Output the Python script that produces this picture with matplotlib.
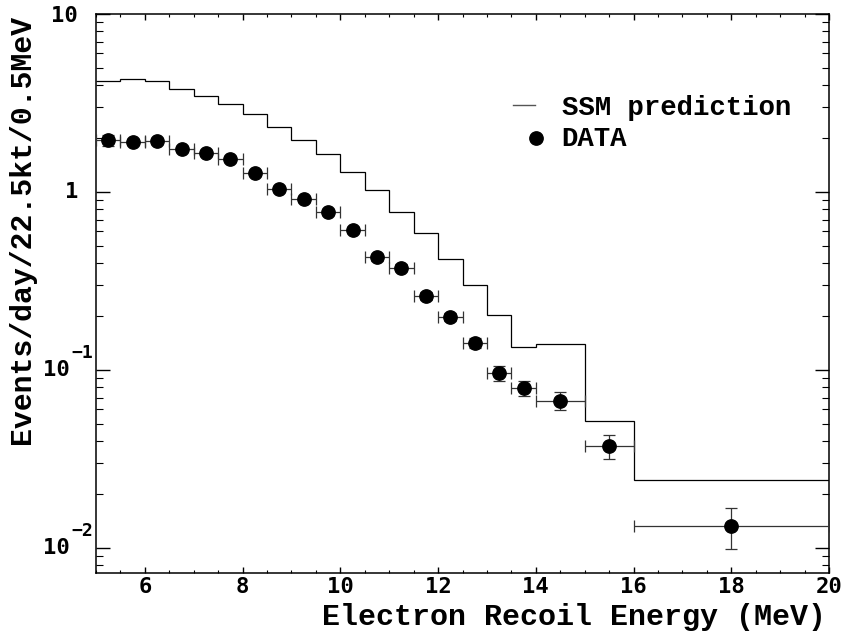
import numpy as np
import matplotlib
matplotlib.use("Agg")
import matplotlib.pyplot as plt
from matplotlib.ticker import FixedLocator, NullFormatter, LogLocator
from matplotlib.transforms import blended_transform_factory, ScaledTranslation

# SSM prediction histogram (bin edges in MeV, contents in events/day/22.5kt/0.5MeV)
ssm_edges = [5.0, 5.5, 6.0, 6.5, 7.0, 7.5, 8.0, 8.5, 9.0, 9.5, 10.0, 10.5,
             11.0, 11.5, 12.0, 12.5, 13.0, 13.5, 14.0, 15.0, 16.0, 20.0]
ssm_values = [4.20, 4.31, 4.20, 3.80, 3.48, 3.11, 2.73, 2.33, 1.96, 1.63, 1.30,
              1.02, 0.775, 0.586, 0.42, 0.30, 0.204, 0.135, 0.14, 0.052, 0.024]

# Measured spectrum
data_energy = [5.25, 5.75, 6.25, 6.75, 7.25, 7.75, 8.25, 8.75, 9.25, 9.75, 10.25,
               10.75, 11.25, 11.75, 12.25, 12.75, 13.25, 13.75, 14.5, 15.5, 18.0]
data_rate = [1.96, 1.92, 1.93, 1.74, 1.66, 1.53, 1.28, 1.035, 0.913, 0.769, 0.612,
             0.430, 0.376, 0.261, 0.199, 0.142, 0.0958, 0.0789, 0.0672, 0.0374, 0.01335]
data_xerr = [0.25, 0.25, 0.25, 0.25, 0.25, 0.25, 0.25, 0.25, 0.25, 0.25, 0.25,
             0.25, 0.25, 0.25, 0.25, 0.25, 0.25, 0.25, 0.5, 0.5, 2.0]
data_yerr = [0.14, 0.06, 0.06, 0.05, 0.05, 0.045, 0.04, 0.035, 0.03, 0.028, 0.024,
             0.019, 0.017, 0.014, 0.011, 0.009, 0.0093, 0.0077, 0.0077, 0.0056, 0.0035]

y_tick_values = [0.01, 0.1, 1, 10]
y_tick_mantissa = ["10", "10", "1", "10"]
y_tick_exponent = ["\u22122", "\u22121", "", ""]
x_tick_values = [6, 8, 10, 12, 14, 16, 18, 20]

TITLE_FONT = "Liberation Mono"
TICK_FONT = "DejaVu Sans Mono"

W, H, DPI = 848, 638, 100
fig = plt.figure(figsize=(W / DPI, H / DPI), dpi=DPI)
L, R, T, B = 96, 829, 14, 573
ax = fig.add_axes([L / W, 1 - B / H, (R - L) / W, (B - T) / H])

ax.set_yscale("log")
ax.set_xlim(5, 20)
ax.set_ylim(10 ** -2.1404, 10)

# SSM histogram as a step outline
ax.stairs(ssm_values, ssm_edges, color="black", lw=0.9, baseline=None)

# data with error bars
ax.errorbar(data_energy, data_rate, xerr=data_xerr, yerr=data_yerr,
            fmt="o", color="black", ms=9.6, ecolor="#333333", elinewidth=0.9,
            capsize=4.5, capthick=0.9, zorder=3)

# spines and ticks
for s in ax.spines.values():
    s.set_linewidth(1.1)

ax.xaxis.set_major_locator(FixedLocator(x_tick_values))
ax.xaxis.set_minor_locator(FixedLocator(np.arange(5.0, 20.01, 0.5)))
ax.tick_params(axis="x", which="major", direction="in", length=4.5, width=1.0,
               top=True, bottom=True, pad=3)
ax.tick_params(axis="x", which="minor", direction="in", length=2.2, width=0.8,
               top=True, bottom=True)
for lab in ax.get_xticklabels():
    lab.set_fontfamily(TICK_FONT)
    lab.set_fontweight("bold")
    lab.set_fontsize(16)

ax.yaxis.set_major_locator(FixedLocator(y_tick_values))
ax.yaxis.set_minor_locator(LogLocator(base=10, subs=np.arange(2, 10)))
ax.yaxis.set_major_formatter(NullFormatter())
ax.yaxis.set_minor_formatter(NullFormatter())
ax.tick_params(axis="y", which="major", direction="in", length=10, width=1.0,
               left=True, right=True)
ax.tick_params(axis="y", which="minor", direction="in", length=5, width=0.8,
               left=True, right=True)

# y tick labels: mantissa with raised exponent
ytrans = blended_transform_factory(ax.transAxes, ax.transData)
for v, man, ex in zip(y_tick_values, y_tick_mantissa, y_tick_exponent):
    if ex:
        off = ScaledTranslation(-26 / DPI, 0, fig.dpi_scale_trans)
        ax.text(0, v, man, transform=ytrans + off, ha="right", va="center",
                fontfamily=TICK_FONT, fontweight="bold", fontsize=16, clip_on=False)
        off2 = ScaledTranslation(-25 / DPI, 17 / DPI, fig.dpi_scale_trans)
        ax.text(0, v, ex, transform=ytrans + off2, ha="left", va="center",
                fontfamily=TICK_FONT, fontweight="bold", fontsize=13, clip_on=False)
    else:
        off = ScaledTranslation(-18 / DPI, -2 / DPI if v == 10 else 0, fig.dpi_scale_trans)
        ax.text(0, v, man, transform=ytrans + off, ha="right", va="center",
                fontfamily=TICK_FONT, fontweight="bold", fontsize=16, clip_on=False)

# axis titles
fig.text(826 / W, 1 - 625 / H, "Electron Recoil Energy (MeV)", ha="right",
         va="baseline", fontfamily=TITLE_FONT, fontweight="bold", fontsize=21.6)
fig.text(22 / W, 1 - 15 / H, "Events/day/22.5kt/0.5MeV", ha="center", va="top",
         rotation=90, fontfamily=TITLE_FONT, fontweight="bold", fontsize=21.5)

# legend
ax.plot([0.569, 0.599], [0.837, 0.837], transform=ax.transAxes, color="#555555",
        lw=1.0, clip_on=False)
ax.plot([0.600], [0.778], "o", transform=ax.transAxes, color="black", ms=9.6,
        clip_on=False)
ax.text(0.6353, 0.832, "SSM prediction", transform=ax.transAxes, ha="left",
        va="center", fontfamily=TITLE_FONT, fontweight="bold", fontsize=19.7)
ax.text(0.6353, 0.777, "DATA", transform=ax.transAxes, ha="left",
        va="center", fontfamily=TITLE_FONT, fontweight="bold", fontsize=19.7)

fig.savefig("out.png", dpi=DPI)
